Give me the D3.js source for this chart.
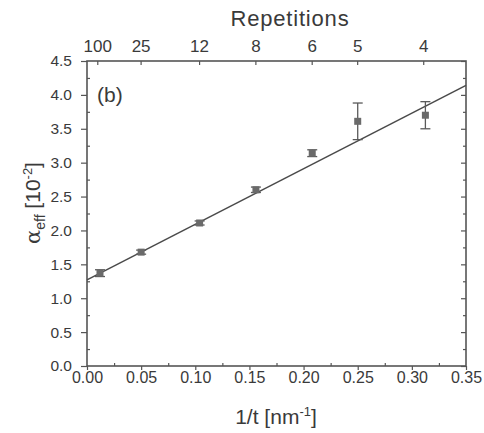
<!DOCTYPE html>
<html><head><meta charset="utf-8">
<script src="https://cdn.jsdelivr.net/npm/d3@7"></script>
<style>body{margin:0;background:#fff}svg{display:block}text{font-family:"Liberation Sans",Arial,sans-serif;fill:#3a3a3a}</style>
</head><body><svg id="c" width="484" height="433"></svg>
<script>
// Data
const invT   = [0.012, 0.050, 0.104, 0.156, 0.208, 0.250, 0.3125];
const alpha  = [1.37, 1.68, 2.11, 2.60, 3.14, 3.61, 3.70];
const errs   = [0.05, 0.03, 0.03, 0.04, 0.05, 0.27, 0.20];
const repLabels = ["100", "25", "12", "8", "6", "5", "4"];
const repPos    = [0.0095, 0.0495, 0.1035, 0.1555, 0.2075, 0.2495, 0.3105];
const fitIntercept = 1.27, fitSlope = 8.2;
const xTicks = [0, 0.05, 0.10, 0.15, 0.20, 0.25, 0.30, 0.35];
const yTicks = [0, 0.5, 1.0, 1.5, 2.0, 2.5, 3.0, 3.5, 4.0, 4.5];

const L = 87, R = 466, T = 61, B = 366;
const svg = d3.select("#c");
const x = d3.scaleLinear().domain([0, 0.35]).range([L, R]);
const y = d3.scaleLinear().domain([0, 4.5]).range([B, T]);
const axisCol = "#555";

function style(g){ g.select(".domain").remove(); g.selectAll("line").attr("stroke", axisCol).attr("stroke-width", 1.2); g.selectAll("text").attr("fill","#3a3a3a"); }

// Bottom axis: major outward, minor inward
const bx = svg.append("g").attr("transform", `translate(0,${B})`)
  .call(d3.axisBottom(x).tickValues(xTicks).tickFormat(d3.format(".2f")).tickSize(4).tickPadding(2));
style(bx); bx.selectAll("text").attr("font-size", 16);
svg.append("g").attr("transform", `translate(0,${B})`)
  .call(d3.axisTop(x).tickValues(d3.range(7).map(i => 0.025 + i*0.05)).tickFormat("").tickSize(3)).call(style);

// Left axis
const ly = svg.append("g").attr("transform", `translate(${L},0)`)
  .call(d3.axisLeft(y).tickValues(yTicks).tickFormat(d3.format(".1f")).tickSize(6).tickPadding(9));
style(ly); ly.selectAll("text").attr("font-size", 15.5);
svg.append("g").attr("transform", `translate(${L},0)`)
  .call(d3.axisRight(y).tickValues(d3.range(9).map(i => 0.25 + i*0.5)).tickFormat("").tickSize(3)).call(style);

// Right axis: inward ticks
svg.append("g").attr("transform", `translate(${R},0)`)
  .call(d3.axisLeft(y).tickValues(yTicks).tickFormat("").tickSize(5)).call(style);
svg.append("g").attr("transform", `translate(${R},0)`)
  .call(d3.axisLeft(y).tickValues(d3.range(9).map(i => 0.25 + i*0.5)).tickFormat("").tickSize(3)).call(style);

// Top axis: repetitions
const tx = svg.append("g").attr("transform", `translate(0,${T})`)
  .call(d3.axisBottom(x).tickValues(repPos).tickFormat((d,i) => repLabels[i]).tickSize(4));
style(tx);
tx.selectAll("text").attr("font-size", 17).attr("y", -9).attr("dy", "0");

// Frame
svg.append("rect").attr("x", L).attr("y", T).attr("width", R-L).attr("height", B-T)
  .attr("fill","none").attr("stroke", axisCol).attr("stroke-width", 1.6);

// Fit line
svg.append("line").attr("x1", x(0)).attr("y1", y(fitIntercept))
  .attr("x2", x(0.35)).attr("y2", y(fitIntercept + fitSlope*0.35))
  .attr("stroke", "#4a4a4a").attr("stroke-width", 1.5);

// Error bars and points
const pts = invT.map((v,i) => ({x:v, y:alpha[i], e:errs[i]}));
const eb = svg.append("g").attr("stroke", "#5a5a5a").attr("stroke-width", 1.3);
pts.forEach(p => {
  eb.append("line").attr("x1", x(p.x)).attr("x2", x(p.x)).attr("y1", y(p.y-p.e)).attr("y2", y(p.y+p.e));
  [p.y-p.e, p.y+p.e].forEach(v => eb.append("line").attr("x1", x(p.x)-5).attr("x2", x(p.x)+5).attr("y1", y(v)).attr("y2", y(v)));
});
svg.append("g").selectAll("rect").data(pts).join("rect")
  .attr("x", d => x(d.x)-3.5).attr("y", d => y(d.y)-3.5).attr("width", 7).attr("height", 7)
  .attr("fill", "#6a6a6a");

// Labels
svg.append("text").attr("x", 97).attr("y", 102).attr("font-size", 21).text("(b)");
svg.append("text").attr("x", 290).attr("y", 26).attr("text-anchor","middle").attr("font-size", 22)
  .attr("letter-spacing", 0.8).text("Repetitions");
const xl = svg.append("text").attr("x", 276).attr("y", 424).attr("text-anchor","middle").attr("font-size", 21);
xl.append("tspan").text("1/t [nm");
xl.append("tspan").attr("dy", -8).attr("font-size", 13).text("-1");
xl.append("tspan").attr("dy", 8).text("]");
const yl = svg.append("text").attr("transform", "translate(40,203) rotate(-90)").attr("text-anchor","middle").attr("font-size", 21);
yl.append("tspan").attr("font-family","DejaVu Serif, serif").text("α");
yl.append("tspan").attr("dy", 5).attr("font-size", 14).text("eff");
yl.append("tspan").attr("dy", -5).text(" [10");
yl.append("tspan").attr("dy", -8).attr("font-size", 13).text("-2");
yl.append("tspan").attr("dy", 8).text("]");
</script></body></html>
